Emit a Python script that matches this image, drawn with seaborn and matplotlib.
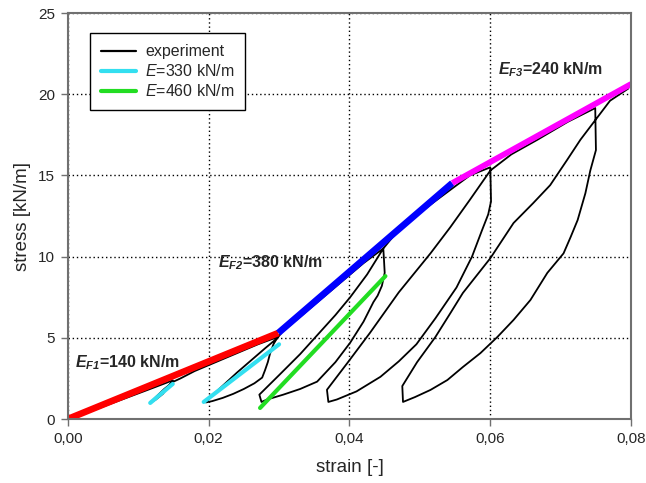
import matplotlib
matplotlib.use("Agg")
import matplotlib.pyplot as plt
import seaborn as sns

# experiment: loading / unloading loops
strain = [
    # envelope up to loop 1
    0.0, 0.004, 0.008, 0.012, 0.0149,
    # loop 1
    0.0143, 0.0135, 0.0125, 0.0117, 0.0125, 0.0137, 0.0150, 0.0160,
    # envelope
    0.018, 0.021, 0.024, 0.027, 0.0298,
    # loop 2 unload
    0.0292, 0.0287, 0.0284, 0.0280, 0.0276, 0.0265, 0.0250, 0.0235, 0.0220, 0.0205, 0.0196,
    # loop 2 reload
    0.0205, 0.0220, 0.0240, 0.0260, 0.0280, 0.0298,
    # envelope
    0.0305, 0.033, 0.036, 0.039, 0.042, 0.0448,
    # loop 3 unload
    0.0449, 0.0450, 0.0446, 0.0440, 0.0434, 0.0420, 0.0401, 0.0380, 0.0354, 0.0330, 0.0306, 0.0283, 0.0275,
    # loop 3 reload
    0.0272, 0.0300, 0.0330, 0.0355, 0.0380, 0.0401, 0.0425, 0.0448,
    # envelope
    0.0465, 0.0482, 0.0515, 0.0546, 0.0571, 0.0600,
    # loop 4 unload
    0.0601, 0.0597, 0.0588, 0.0574, 0.0552, 0.0522, 0.0495, 0.0470, 0.0444, 0.0410, 0.0382, 0.0370,
    # loop 4 reload
    0.0368, 0.0397, 0.0429, 0.0470, 0.0515, 0.0543, 0.0571, 0.0600,
    # envelope
    0.0630, 0.0667, 0.0710, 0.0749,
    # loop 5 unload
    0.0750, 0.0742, 0.0735, 0.0724, 0.0714, 0.0704, 0.0681, 0.0657, 0.0633, 0.0610, 0.0586,
    0.0561, 0.0539, 0.0515, 0.0493, 0.0476,
    # loop 5 reload
    0.0475, 0.0496, 0.0522, 0.0543, 0.0561, 0.0600, 0.0633, 0.0661, 0.0685, 0.0709, 0.0728, 0.0749,
    # envelope to end
    0.0770, 0.0796,
]
stress = [
    0.0, 0.6, 1.25, 1.9, 2.38,
    2.0, 1.55, 1.2, 1.0, 1.35, 1.85, 2.3, 2.5,
    2.95, 3.5, 4.05, 4.6, 5.05,
    4.6, 4.0, 3.5, 3.0, 2.55, 2.2, 1.85, 1.55, 1.3, 1.1, 1.02,
    1.45, 2.05, 2.85, 3.6, 4.35, 5.0,
    5.4, 6.3, 7.4, 8.5, 9.6, 10.5,
    9.8, 9.0, 8.2, 7.6, 7.2, 6.0, 4.7, 3.5, 2.3, 1.85, 1.5, 1.2, 1.05,
    1.5, 2.7, 4.0, 5.2, 6.4, 7.5, 8.9, 10.5,
    11.4, 12.1, 13.2, 14.2, 15.0, 15.5,
    13.4, 12.6, 11.6, 10.0, 8.1, 6.2, 4.6, 3.55, 2.6, 1.7, 1.2, 1.05,
    1.8, 3.45, 5.3, 7.8, 10.2, 11.8, 13.5, 15.3,
    16.3, 17.2, 18.3, 19.15,
    16.56, 15.3, 13.9, 12.25, 11.2, 10.2, 9.0, 7.33, 6.1, 5.05, 4.06,
    3.2, 2.4, 1.79, 1.35, 1.05,
    2.03, 3.5, 5.05, 6.5, 7.76, 9.9, 12.07, 13.3, 14.4, 15.95, 17.2, 18.4,
    19.6, 20.35,
]

# fitted stiffness lines (end points)
ef1_x, ef1_y = [0.0, 0.0299], [0.0, 5.3]
ef2_x, ef2_y = [0.0299, 0.0546], [5.3, 14.53]
ef3_x, ef3_y = [0.0546, 0.0800], [14.53, 20.63]
e330a_x, e330a_y = [0.0117, 0.0149], [0.99, 2.16]
e330b_x, e330b_y = [0.0193, 0.0300], [1.05, 4.6]
e460_x, e460_y = [0.0273, 0.0451], [0.68, 8.8]

x_ticks = [0.0, 0.02, 0.04, 0.06, 0.08]
x_tick_labels = ["0,00", "0,02", "0,04", "0,06", "0,08"]
y_ticks = [0, 5, 10, 15, 20, 25]

sns.set_style("white")
plt.rcParams["font.family"] = ["Liberation Sans", "DejaVu Sans"]
plt.rcParams["mathtext.fontset"] = "custom"
plt.rcParams["mathtext.rm"] = "Liberation Sans"
plt.rcParams["mathtext.it"] = "Liberation Sans:italic"
plt.rcParams["mathtext.bf"] = "Liberation Sans:bold"
plt.rcParams["mathtext.bfit"] = "Liberation Sans:italic:bold"

fig = plt.figure(figsize=(6.46, 4.83), dpi=100)
ax = fig.add_axes([0.105, 0.1325, 0.872, 0.8405])

sns.lineplot(x=strain, y=stress, sort=False, estimator=None, color="black", lw=1.3, ax=ax,
             label="experiment")
sns.lineplot(x=ef1_x, y=ef1_y, color="#ff0000", lw=4.8, ax=ax, solid_capstyle="butt")
sns.lineplot(x=ef2_x, y=ef2_y, color="#0000ff", lw=4.8, ax=ax, solid_capstyle="butt")
sns.lineplot(x=ef3_x, y=ef3_y, color="#ff00ff", lw=4.2, ax=ax, solid_capstyle="butt")
sns.lineplot(x=e330a_x, y=e330a_y, color="#33dff0", lw=3.0, ax=ax, label="$E$=330 kN/m")
sns.lineplot(x=e330b_x, y=e330b_y, color="#33dff0", lw=3.0, ax=ax)
sns.lineplot(x=e460_x, y=e460_y, color="#22dd22", lw=3.0, ax=ax, label="$E$=460 kN/m")

ax.set_xlim(0, 0.08)
ax.set_ylim(0, 25)
ax.set_xticks(x_ticks)
ax.set_xticklabels(x_tick_labels)
ax.set_yticks(y_ticks)
ax.tick_params(left=True, bottom=True, direction="out", length=5, width=1,
               color="#707070", labelsize=11, pad=4)
ax.grid(True, color="black", linestyle=(0, (1, 2)), linewidth=1.0)
for sp in ax.spines.values():
    sp.set_color("#707070")
    sp.set_linewidth(1.5)

ax.set_xlabel("strain [-]", fontsize=13.5, labelpad=10)
ax.set_ylabel("stress [kN/m]", fontsize=13.5, labelpad=5)

ax.text(0.001, 3.5, r"$\mathbfit{E}_{\mathbfit{F1}}$=140 kN/m", fontsize=11.5,
        fontweight="bold", ha="left", va="center")
ax.text(0.0213, 9.6, r"$\mathbfit{E}_{\mathbfit{F2}}$=380 kN/m", fontsize=11.5,
        fontweight="bold", ha="left", va="center")
ax.text(0.0611, 21.5, r"$\mathbfit{E}_{\mathbfit{F3}}$=240 kN/m", fontsize=11.5,
        fontweight="bold", ha="left", va="center")

leg = ax.legend(loc="upper left", bbox_to_anchor=(0.039, 0.951), borderaxespad=0,
                fontsize=11.5, handlelength=2.2, handletextpad=0.55, labelspacing=0.25,
                fancybox=False, framealpha=1, edgecolor="black", borderpad=0.7)
leg.get_frame().set_linewidth(1.0)
leg.get_lines()[0].set_linewidth(1.6)

fig.savefig("out.png", dpi=100)
